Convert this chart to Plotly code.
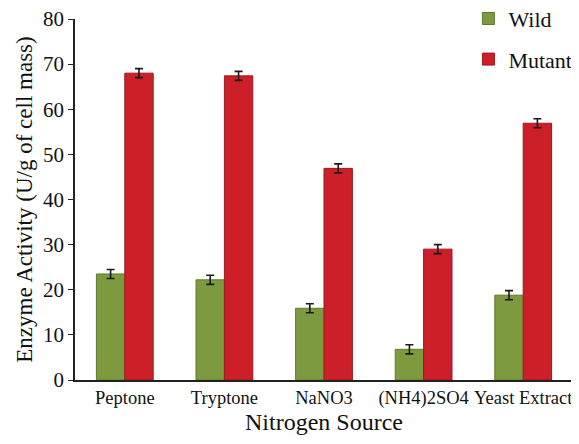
import plotly.graph_objects as go

categories = ["Peptone", "Tryptone", "NaNO3", "(NH4)2SO4", "Yeast Extract"]
wild = [23.5, 22.2, 15.9, 6.8, 18.8]
mutant = [68.0, 67.4, 46.9, 29.0, 56.9]
wild_err = [1.0, 1.0, 1.0, 1.0, 1.0]
mutant_err = [1.0, 1.0, 1.0, 1.0, 1.0]
y_ticks = [0, 10, 20, 30, 40, 50, 60, 70, 80]

font = "Liberation Serif"

fig = go.Figure()
fig.add_trace(go.Bar(
    x=categories, y=wild, name="Wild",
    marker=dict(color="#7d9b3e", line=dict(color="#5f7a2c", width=1)),
    error_y=dict(type="data", array=wild_err, color="#1a1a1a", thickness=1.6, width=4),
    legendgroup="a",
))
fig.add_trace(go.Bar(
    x=categories, y=mutant, name="Mutant",
    marker=dict(color="#cc1f28", line=dict(color="#9a1a1f", width=1)),
    error_y=dict(type="data", array=mutant_err, color="#1a1a1a", thickness=1.6, width=4),
    legendgroup="b",
))

# page body has an 8px margin, so the figure is sized/offset to compensate
fig.update_layout(
    width=571, height=436,
    margin=dict(l=67, r=6, t=11, b=64, autoexpand=False),
    paper_bgcolor="white", plot_bgcolor="white",
    barmode="group", bargap=0.43, bargroupgap=0.0,
    font=dict(family=font, size=18, color="#111111"),
    showlegend=True,
    legend=dict(
        x=0.79, y=1.059, xanchor="left", yanchor="top",
        font=dict(family=font, size=22, color="#111111"),
        tracegroupgap=9, itemwidth=30, bgcolor="rgba(0,0,0,0)",
    ),
    xaxis=dict(
        showline=True, linecolor="#222222", linewidth=1.5,
        ticks="", showgrid=False,
        tickfont=dict(family=font, size=18.5),
        title=dict(text="Nitrogen Source", font=dict(family=font, size=24), standoff=0),
    ),
    yaxis=dict(
        range=[0, 80], tickvals=y_ticks,
        showline=True, linecolor="#222222", linewidth=1.5,
        ticks="outside", ticklen=5, tickcolor="#222222",
        showgrid=False, zeroline=False, ticklabeloverflow="allow",
        tickfont=dict(family=font, size=21),
        title=dict(text="Enzyme Activity (U/g of cell mass)", font=dict(family=font, size=23), standoff=4),
    ),
)

fig.write_html("out.html")
